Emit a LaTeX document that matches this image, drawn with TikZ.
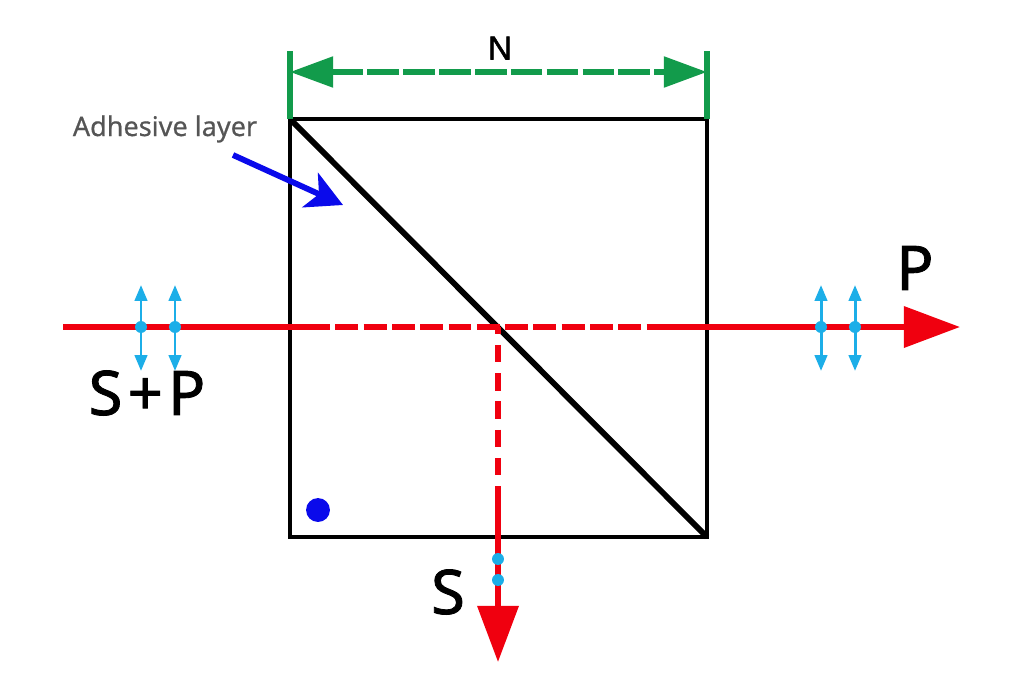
\documentclass[tikz,border=0pt]{standalone}
\usepackage{fontspec}
\setmainfont{Noto Sans}
\newfontfamily\labelfont[FakeBold=0.6]{Noto Sans}
\newfontfamily\bigfont[FakeBold=1.4]{Noto Sans}
\newfontfamily\dimfont[FakeBold=1.6]{Liberation Sans}
\usetikzlibrary{arrows.meta}
\definecolor{beamred}{HTML}{F0000F}
\definecolor{dimgreen}{HTML}{129B4B}
\definecolor{polcyan}{HTML}{1CAEE8}
\definecolor{labelgray}{HTML}{555555}
\definecolor{pointblue}{HTML}{0A0AEB}

\begin{document}
\begin{tikzpicture}[x=0.02cm, y=-0.02cm,
    prism/.style={draw=black, line width=2.5pt},
    interface/.style={draw=black, line width=3.3pt},
    beam/.style={draw=beamred, line width=3.3pt},
    beamdash/.style={draw=beamred, line width=3.3pt, dash pattern=on 13pt off 3.1pt, dash phase=13pt},
    beamdrop/.style={draw=beamred, line width=3.3pt, dash pattern=on 10pt off 6.1pt, dash phase=6pt},
    beamtip/.style={beam, -{Triangle[length=32pt, width=23pt]}},
    dimline/.style={draw=dimgreen, line width=3.2pt},
    dimarrow/.style={draw=dimgreen, line width=3.2pt, dash pattern=on 18pt off 2.4pt,
        {Triangle[length=24.5pt, width=17pt]}-{Triangle[length=24.5pt, width=17pt]}},
    pol/.style={draw=polcyan, line width=1.7pt,
        {Triangle[length=9pt, width=7pt]}-{Triangle[length=9pt, width=7pt]}},
    poldot/.style={circle, fill=polcyan, inner sep=0pt, minimum size=6.8pt},
    bigtext/.style={font=\bigfont\fontsize{35}{35}\selectfont, inner sep=0pt}]

    \useasboundingbox (0,0) rectangle (1024,690);

    % Prism corners
    \coordinate (tl) at (290,119);
    \coordinate (tr) at (707,119);
    \coordinate (br) at (707,537);
    \coordinate (bl) at (290,537);

    % Beam points
    \coordinate (in) at (63,327);
    \coordinate (d1) at (330,327);
    \coordinate (split) at (500,327);
    \coordinate (d2) at (665,327);
    \coordinate (out) at (960,327);
    \coordinate (d3) at (498,490);
    \coordinate (down) at (498,662);

    % Dimension points
    \coordinate (n1) at (290,51);
    \coordinate (n2) at (707,51);
    \coordinate (a1) at (290,72);
    \coordinate (a2) at (707,72);

    % Polarisation marks
    \coordinate (p1t) at (141,285);
    \coordinate (p1b) at (141,371);
    \coordinate (p2t) at (175,285);
    \coordinate (p2b) at (175,371);
    \coordinate (p3t) at (821,285);
    \coordinate (p3b) at (821,371);
    \coordinate (p4t) at (855,285);
    \coordinate (p4b) at (855,371);

    % Labels
    \node[font=\dimfont\fontsize{19}{19}\selectfont, inner sep=0pt] (nlabel) at (500,48) {N};
    \node[font=\labelfont\fontsize{15.4}{16}\selectfont, text=labelgray, inner sep=0pt] (glue) at (165,129) {Adhesive layer};
    \node[bigtext] (sp) at (147,393) {S\kern3pt+\kern3pt P};
    \node[bigtext] (p) at (915,268) {P};
    \node[bigtext] (s) at (448,592) {S};
    \coordinate (g1) at (233,155);
    \coordinate (g2) at (343,205);

    % Prism
    \draw[prism, line join=miter] (tl) -- (tr) -- (br) -- (bl) -- cycle;
    \draw[interface] (tl) -- (br);
    \node[circle, fill=pointblue, inner sep=0pt, minimum size=13.6pt] (spot) at (318,510) {};

    % Dimension
    \draw[dimline] (n1) -- (tl);
    \draw[dimline] (n2) -- (tr);
    \draw[dimarrow] (a1) -- (a2);

    % Blue pointer
    \draw[draw=pointblue, line width=3.3pt, -{Stealth[length=20.5pt, width=21.5pt, inset=5.5pt]}] (g1) -- (g2);

    % Beams
    \draw[beam] (in) -- (d1);
    \draw[beamdash] (d1) -- (d2);
    \draw[beamtip] (d2) -- (out);
    \draw[beamdrop] (split -| down) -- (d3);
    \draw[beamtip] (d3) -- (down);

    % Polarisation
    \draw[pol] (p1t) -- (p1b);
    \draw[pol] (p2t) -- (p2b);
    \draw[pol] (p3t) -- (p3b);
    \draw[pol] (p4t) -- (p4b);
    \node[poldot] (m1) at (141,327) {};
    \node[poldot] (m2) at (175,327) {};
    \node[poldot] (m3) at (821,327) {};
    \node[poldot] (m4) at (855,327) {};
    \node[poldot] (m5) at (498,559) {};
    \node[poldot] (m6) at (498,580) {};

\end{tikzpicture}
\end{document}
